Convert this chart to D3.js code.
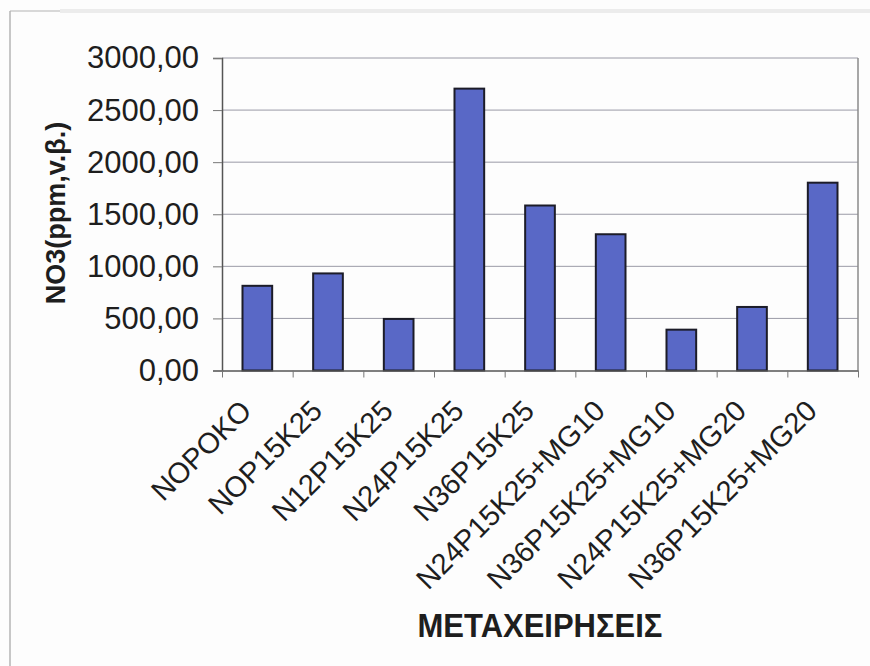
<!DOCTYPE html>
<html>
<head>
<meta charset="utf-8">
<script src="https://cdn.jsdelivr.net/npm/d3@7"></script>
<style>
  html, body { margin: 0; padding: 0; background: #fdfdfd; }
  svg { display: block; font-family: "Liberation Sans", Arial, sans-serif; }
</style>
</head>
<body>
<svg id="chart" width="870" height="666"></svg>
<script>
// Nitrate content per fertilisation treatment
const categories = [
  "NOPOKO", "NOP15K25", "N12P15K25", "N24P15K25", "N36P15K25",
  "N24P15K25+MG10", "N36P15K25+MG10", "N24P15K25+MG20", "N36P15K25+MG20"
];
const values = [813, 932, 495, 2706, 1584, 1308, 392, 610, 1803];
const yTicks = [0, 500, 1000, 1500, 2000, 2500, 3000];
const yTitle = "NO3(ppm,v.β.)";
const xTitle = "ΜΕΤΑΧΕΙΡΗΣΕΙΣ";

const svg = d3.select("#chart");
const W = 870, H = 666;
const plot = { left: 222, right: 858, top: 58, bottom: 370.5 };

// outer frame (left edge and short top stub)
svg.append("line").attr("x1", 10).attr("x2", 10).attr("y1", 11).attr("y2", H)
  .attr("stroke", "#b4b4b4").attr("stroke-width", 1.5);
svg.append("line").attr("x1", 10).attr("x2", 60).attr("y1", 11).attr("y2", 11)
  .attr("stroke", "#b4b4b4").attr("stroke-width", 1.2);
svg.append("line").attr("x1", 60).attr("x2", 870).attr("y1", 11).attr("y2", 11)
  .attr("stroke", "#ececec").attr("stroke-width", 4);

const x = d3.scaleBand()
  .domain(categories)
  .range([plot.left, plot.right])
  .paddingInner(0.58)
  .paddingOuter(0.29);

const xEdge = d3.scaleLinear().domain([0, categories.length]).range([plot.left, plot.right]);

const y = d3.scaleLinear().domain([0, 3000]).range([plot.bottom, plot.top]);

const locale = d3.formatLocale({ decimal: ",", thousands: "", grouping: [3], currency: ["", ""] });
const fmt = locale.format(".2f");

// horizontal gridlines
svg.append("g").selectAll("line")
  .data(yTicks.filter(d => d > 0))
  .join("line")
  .attr("x1", plot.left).attr("x2", plot.right)
  .attr("y1", d => y(d)).attr("y2", d => y(d))
  .attr("stroke", "#9a9aa6").attr("stroke-width", 1);

// plot area right border
svg.append("line").attr("x1", plot.right).attr("x2", plot.right)
  .attr("y1", plot.top).attr("y2", plot.bottom)
  .attr("stroke", "#8a8a8a").attr("stroke-width", 1.5);

// bars
svg.append("g").selectAll("rect")
  .data(categories.map((c, i) => ({ c, v: values[i] })))
  .join("rect")
  .attr("x", d => x(d.c))
  .attr("width", x.bandwidth())
  .attr("y", d => y(d.v))
  .attr("height", d => y(0) - y(d.v))
  .attr("fill", "#5968c6")
  .attr("stroke", "#1c1c28")
  .attr("stroke-width", 2);

// y axis
const yAxis = svg.append("g")
  .attr("transform", `translate(${plot.left},0)`)
  .call(d3.axisLeft(y).tickValues(yTicks).tickFormat(fmt).tickSize(9).tickPadding(14));
yAxis.select(".domain").attr("stroke", "#555").attr("stroke-width", 1.5);
yAxis.selectAll(".tick line").attr("stroke", "#777");
yAxis.selectAll(".tick text")
  .attr("font-size", 31).attr("fill", "#1e1e1e")
  .attr("font-family", "'Liberation Sans', Arial, sans-serif");

// x axis: ticks at category boundaries
const xAxis = svg.append("g")
  .attr("transform", `translate(0,${plot.bottom})`)
  .call(d3.axisBottom(xEdge).tickValues(d3.range(categories.length + 1)).tickFormat("").tickSize(7).tickSizeOuter(0));
xAxis.select(".domain").attr("stroke", "#555").attr("stroke-width", 1.5);
xAxis.selectAll(".tick line").attr("stroke", "#777");

// rotated category labels
svg.append("g").selectAll("text")
  .data(categories)
  .join("text")
  .attr("transform", d => `translate(${x(d) + x.bandwidth() / 2 - 4},${plot.bottom + 42}) rotate(-45)`)
  .attr("text-anchor", "end")
  .attr("font-size", 29)
  .attr("fill", "#1e1e1e")
  .text(d => d);

// y axis title
svg.append("text")
  .attr("transform", `translate(65,213) rotate(-90)`)
  .attr("text-anchor", "middle")
  .attr("font-size", 27)
  .attr("font-weight", "bold")
  .attr("fill", "#1e1e1e")
  .text(yTitle);

// x axis title
svg.append("text")
  .attr("transform", `translate(540,637) scale(1,1.05)`)
  .attr("text-anchor", "middle")
  .attr("font-size", 31)
  .attr("font-weight", "bold")
  .attr("fill", "#1e1e1e")
  .text(xTitle);
</script>
</body>
</html>
